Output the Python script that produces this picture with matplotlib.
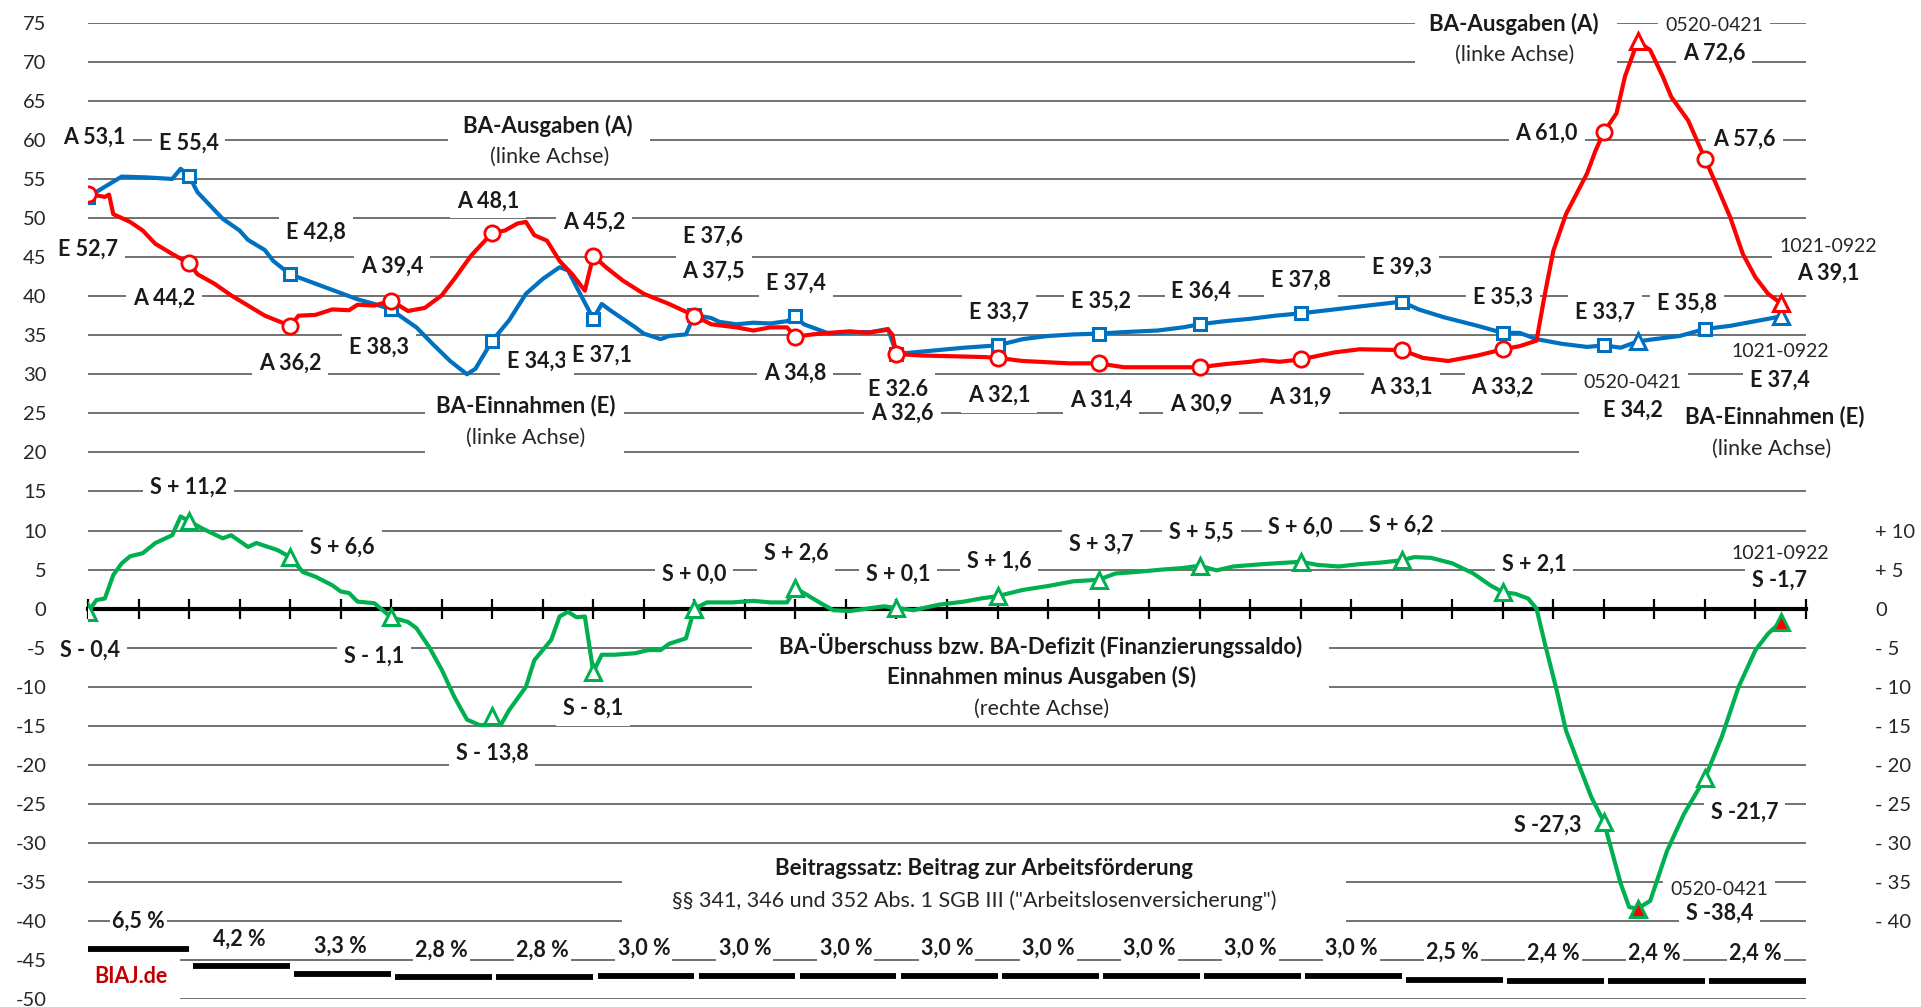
import numpy as np
import matplotlib.pyplot as plt
from matplotlib.patches import Rectangle

plt.rcParams['font.family'] = ['Lato', 'DejaVu Sans']

# x = month index, 0 = 12-month window ending 12/2005, 201 = window ending 09/2022
# BA-Einnahmen (E), rolling 12-month sums, bn EUR
e_months = [0, 2, 4, 7, 10, 11, 12, 13, 16, 18, 19, 21, 22, 24, 25, 28, 30, 32, 34, 36,
            37, 39, 41, 43, 45, 46, 48, 50, 52, 54, 56, 57, 58, 60, 61, 62, 65, 66, 68, 69,
            71, 72, 74, 75, 77, 79, 81, 83, 84, 85, 87, 88, 91, 93, 95, 96, 98, 101, 104, 108,
            111, 114, 117, 120, 123, 127, 130, 132, 135, 138, 141, 144, 148, 152, 156, 158, 161, 165, 168, 170,
            172, 175, 178, 180, 182, 184, 186, 189, 192, 195, 198, 201]
e_values = [52.7, 54.0, 55.3, 55.2, 55.0, 56.3, 55.4, 53.3, 49.9, 48.4, 47.2, 45.9, 44.5, 42.8, 42.4, 41.2, 40.4, 39.6, 39.0, 38.3,
            37.5, 36.0, 33.8, 31.7, 30.0, 30.7, 34.3, 36.9, 40.3, 42.2, 43.7, 43.3, 41.2, 37.1, 39.0, 38.2, 36.0, 35.2, 34.5, 34.9,
            35.1, 37.6, 37.2, 36.7, 36.4, 36.6, 36.5, 36.8, 37.4, 36.4, 35.6, 35.2, 35.4, 35.4, 35.8, 32.6, 32.8, 33.1, 33.4, 33.7,
            34.5, 34.9, 35.1, 35.2, 35.4, 35.6, 36.0, 36.4, 36.8, 37.1, 37.5, 37.8, 38.3, 38.8, 39.3, 38.3, 37.3, 36.2, 35.3, 35.3,
            34.5, 33.9, 33.5, 33.7, 33.4, 34.2, 34.5, 34.9, 35.8, 36.2, 36.8, 37.4]

# BA-Ausgaben (A)
a_months = [0, 2, 2.5, 3, 5, 6.5, 8, 10, 12, 13, 15, 17, 19, 21, 24, 25, 27, 29, 31, 32,
            34, 36, 38, 40, 42, 43.5, 45.5, 48, 49.5, 51, 52, 53, 54.5, 56, 57.5, 59, 60, 61.5, 63.5, 66,
            69, 72, 74, 77, 79, 81, 83, 84, 86, 88, 90.5, 92.5, 95, 95.5, 96, 99, 103, 106.5, 108, 111,
            116.5, 120, 123, 127, 130, 132, 135, 138, 139.5, 141.5, 144, 148, 151, 156, 158.5, 161.5, 165, 168, 170, 172,
            173, 174, 175.5, 178, 179, 180, 181.5, 182.5, 184, 185.5, 187, 188, 190, 192, 193.5, 195, 196.5, 198, 199.5, 201]
a_values = [53.1, 52.7, 53.0, 50.5, 49.5, 48.4, 46.7, 45.4, 44.2, 42.8, 41.6, 40.1, 38.8, 37.5, 36.2, 37.5, 37.6, 38.3, 38.2, 38.9,
            38.8, 39.4, 38.1, 38.5, 40.1, 42.2, 45.2, 48.1, 48.4, 49.3, 49.5, 47.8, 47.1, 44.5, 42.8, 40.7, 45.2, 43.7, 42.0, 40.3,
            39.0, 37.5, 36.4, 36.0, 35.6, 36.0, 36.0, 34.8, 35.1, 35.3, 35.5, 35.3, 35.7, 35.1, 32.6, 32.4, 32.3, 32.2, 32.1, 31.7,
            31.4, 31.4, 30.9, 30.9, 30.9, 30.9, 31.3, 31.6, 31.8, 31.6, 31.9, 32.8, 33.2, 33.1, 32.1, 31.7, 32.4, 33.2, 33.6, 34.3,
            40.3, 45.8, 50.5, 55.7, 58.6, 61.0, 63.4, 68.1, 72.6, 71.5, 68.1, 65.5, 62.5, 57.6, 53.9, 50.1, 45.4, 42.4, 40.3, 39.1]

# Finanzierungssaldo (S) = Einnahmen minus Ausgaben
s_months = [0, 1, 2, 3, 4, 5, 6.5, 8, 10, 11, 12, 13.5, 16, 17, 19, 20, 22.5, 24, 25.5, 27,
            29, 30, 31, 32, 34, 36, 37, 38, 39, 40.5, 42, 43.5, 45, 46.5, 47.5, 48, 49, 50, 52, 53,
            55, 56, 57, 58, 59, 60, 61, 62.5, 65, 66.5, 68, 69, 71, 72, 73.5, 76.5, 79, 81, 83, 84,
            85, 87, 88.5, 90.5, 92.5, 94.5, 96, 98, 101, 104, 106, 108, 111, 114, 117, 120, 122, 124.5, 127.5, 130,
            132, 134, 136, 139.5, 142.5, 144, 146, 148.5, 151, 153.5, 156, 157.5, 159.5, 162, 164.5, 166.5, 168, 169.5, 171, 172,
            173, 174.5, 175.5, 177, 178.5, 180, 182, 183, 184, 185.5, 187.5, 189.5, 192, 194, 196, 198, 199.5, 201]
s_values = [-0.4, 1.1, 1.3, 4.3, 5.8, 6.7, 7.1, 8.4, 9.4, 11.8, 11.2, 10.3, 9.0, 9.4, 7.9, 8.4, 7.5, 6.6, 4.7, 4.1,
            3.0, 2.2, 2.0, 0.9, 0.7, -1.1, -1.4, -1.7, -2.5, -4.9, -7.8, -11.3, -14.2, -14.9, -14.9, -13.8, -14.9, -13.0, -10.0, -6.6,
            -4.0, -1.0, -0.4, -1.1, -1.0, -8.1, -5.9, -5.9, -5.7, -5.3, -5.3, -4.5, -3.8, 0.0, 0.8, 0.8, 1.0, 0.8, 0.8, 2.6,
            2.0, 0.7, -0.2, -0.3, 0.0, 0.3, 0.1, -0.2, 0.5, 0.9, 1.3, 1.6, 2.4, 2.9, 3.5, 3.7, 4.5, 4.7, 5.0, 5.2,
            5.5, 4.9, 5.4, 5.7, 5.9, 6.0, 5.6, 5.4, 5.7, 5.9, 6.2, 6.6, 6.5, 5.8, 4.5, 3.0, 2.1, 1.9, 1.3, 0.0,
            -4.5, -10.9, -15.6, -19.9, -24.1, -27.3, -35.2, -38.2, -38.4, -37.4, -31.0, -26.3, -21.7, -16.4, -10.0, -5.3, -3.2, -1.7]

# calendar-year results 2005-2021 (markers)
year_months = [0, 12, 24, 36, 48, 60, 72, 84, 96, 108, 120, 132, 144, 156, 168, 180, 192]
e_year = [52.7, 55.4, 42.8, 38.3, 34.3, 37.1, 37.6, 37.4, 32.6, 33.7, 35.2, 36.4, 37.8, 39.3, 35.3, 33.7, 35.8]
a_year = [53.1, 44.2, 36.2, 39.4, 48.1, 45.2, 37.5, 34.8, 32.6, 32.1, 31.4, 30.9, 31.9, 33.1, 33.2, 61.0, 57.6]
s_year = [-0.4, 11.2, 6.6, -1.1, -13.8, -8.1, 0.0, 2.6, 0.1, 1.6, 3.7, 5.5, 6.0, 6.2, 2.1, -27.3, -21.7]

# 12-month windows 0520-0421 and 1021-0922
win_months = [184, 201]
e_win = [34.2, 37.4]
a_win = [72.6, 39.1]
s_win = [-38.4, -1.7]

# Beitragssatz 2006-2022 (%)
rate_years = list(range(2006, 2023))
rates = [6.5, 4.2, 3.3, 2.8, 2.8, 3.0, 3.0, 3.0, 3.0, 3.0, 3.0, 3.0, 3.0, 2.5, 2.4, 2.4, 2.4]

blue = '#0070C0'
red = '#FF0000'
green = '#00B050'
grid_c = '#595959'
txt_c = '#1a1a1a'

fig = plt.figure(figsize=(19.21, 10.07), dpi=100)
ax = fig.add_axes([88 / 1921, 7.7 / 1007, 1718 / 1921, 976.6 / 1007])
ax.set_xlim(0, 204)
ax.set_ylim(-50, 75)

for s in ['top', 'right', 'left']:
    ax.spines[s].set_visible(False)
ax.spines['bottom'].set_position(('data', 0))
ax.spines['bottom'].set_linewidth(3)
ax.spines['bottom'].set_zorder(3)
ax.set_xticks(np.arange(0, 205, 6))
ax.set_xticklabels([])
ax.tick_params(axis='x', direction='inout', length=15, width=1.6, color='black')

yt = np.arange(-50, 76, 5)
ax.set_yticks(yt)
ax.set_yticklabels([str(v) for v in yt])
ax.tick_params(axis='y', length=0, pad=30, labelsize=14.5, labelcolor='#262626')
for v in yt:
    if v != 0:
        ax.axhline(v, color=grid_c, lw=1.2, zorder=1)

ax2 = ax.twinx()
ax2.set_ylim(-50, 75)
rt = np.arange(-40, 11, 5)
ax2.set_yticks(rt)
ax2.set_yticklabels([('+ %d' % v) if v > 0 else ('- %d' % -v) if v < 0 else '0' for v in rt])
ax2.tick_params(axis='y', length=0, pad=50, labelsize=14.5, labelcolor='#262626')
for s in ax2.spines.values():
    s.set_visible(False)

# lines
ax.plot(e_months, e_values, color=blue, lw=3, zorder=4, solid_joinstyle='round')
ax.plot(a_months, a_values, color=red, lw=3, zorder=4, solid_joinstyle='round')
ax.plot(s_months, s_values, color=green, lw=3, zorder=4, solid_joinstyle='round')

ax.plot(year_months, e_year, ls='none', marker='s', ms=9, mfc='white', mec=blue, mew=2.2, zorder=5)
ax.plot(year_months, a_year, ls='none', marker='o', ms=11, mfc='white', mec=red, mew=2, zorder=6)
ax.plot(year_months, s_year, ls='none', marker='^', ms=11, mfc='white', mec=green, mew=2.2, zorder=5)
ax.plot(win_months, e_win, ls='none', marker='^', ms=11, mfc='white', mec=blue, mew=2.2, zorder=5)
ax.plot(win_months, a_win, ls='none', marker='^', ms=11, mfc='white', mec=red, mew=2.2, zorder=6)
ax.plot(win_months, s_win, ls='none', marker='^', ms=11, mfc=red, mec=green, mew=2.2, zorder=5)

# contribution rate bars
for i, r in enumerate(rates):
    x0 = 12 * i + (0 if i == 0 else 0.5)
    ax.plot([x0, 12 * i + 12], [-50 + r, -50 + r], color='black', lw=4.2,
            solid_capstyle='butt', zorder=4)
    ax.text(12 * i + 6, -50 + r + 3.5, ('%.1f' % r).replace('.', ',') + ' %',
            ha='center', va='center', fontsize=15.5, fontweight='bold', color=txt_c, zorder=2,
            bbox=dict(facecolor='white', edgecolor='none', pad=1.5))

box = dict(facecolor='white', edgecolor='none', pad=5)


def lab(txt, x, y, bold=True, size=15.5, ha='center', z=2):
    return ax.text(x, y, txt, ha=ha, va='center', fontsize=size,
                   fontweight='bold' if bold else 'normal', color=txt_c if bold else '#262626',
                   bbox=box, zorder=z, clip_on=False)


# white blocks behind multi-line captions
for (x0, x1, y0, y1) in [(42.8, 66.7, 56.6, 63.6), (40.0, 63.7, 19.3, 27.7), (157.6, 181.5, 68.8, 75.5),
                         (177.0, 206, 18.7, 27.2), (78.9, 147.4, -13.6, -3.2), (63.4, 149.4, -40.6, -31.8)]:
    ax.add_patch(Rectangle((x0, y0), x1 - x0, y1 - y0, facecolor='white', edgecolor='none',
                           zorder=1.5, clip_on=False))

labels_bold = [
    ('A 53,1', 0.8, 60.4), ('E 55,4', 11.95, 59.6), ('E 52,7', 0.0, 46.0), ('A 44,2', 9.0, 39.7),
    ('E 42,8', 27.1, 48.2), ('A 36,2', 24.0, 31.4), ('A 39,4', 36.1, 43.8), ('E 38,3', 34.6, 33.5),
    ('A 48,1', 47.5, 52.2), ('A 45,2', 60.1, 49.5),
    ('E 37,6', 74.2, 47.7), ('A 37,5', 74.3, 43.2), ('E 37,4', 84.1, 41.6), ('A 34,8', 84.0, 30.1),
    ('E 32.6', 96.2, 28.1), ('A 32,6', 96.7, 25.0), ('A 32,1', 108.2, 27.3), ('E 33,7', 108.2, 37.9),
    ('E 35,2', 120.3, 39.4), ('A 31,4', 120.3, 26.7), ('E 36,4', 132.2, 40.6), ('A 30,9', 132.2, 26.2),
    ('E 37,8', 144.0, 42.1), ('A 31,9', 144.0, 27.1), ('E 39,3', 156.0, 43.7), ('A 33,1', 156.0, 28.3),
    ('E 35,3', 168.0, 39.9), ('A 33,2', 168.0, 28.4), ('A 61,0', 173.2, 60.8), ('A 72,6', 193.1, 71.1),
    ('A 57,6', 196.7, 60.1), ('A 39,1', 206.6, 42.9), ('E 33,7', 180.1, 37.9), ('E 35,8', 189.9, 39.1),
    ('E 34,2', 183.4, 25.4), ('E 37,4', 200.9, 29.3),
    ('S + 11,2', 11.95, 15.6), ('S + 6,6', 30.2, 7.9), ('S - 0,4', 0.2, -5.3), ('S - 1,1', 34.0, -6.1),
    ('S - 13,8', 48.0, -18.5), ('S - 8,1', 60.0, -12.8), ('S + 0,0', 72.0, 4.4), ('S + 2,6', 84.1, 7.1),
    ('S + 0,1', 96.2, 4.4), ('S + 1,6', 108.2, 6.1), ('S + 3,7', 120.3, 8.25), ('S + 5,5', 132.2, 9.8),
    ('S + 6,0', 144.0, 10.4), ('S + 6,2', 156.0, 10.7), ('S + 2,1', 171.7, 5.7), ('S -1,7', 200.8, 3.6),
    ('S -21,7', 196.7, -26.0), ('S -27,3', 173.3, -27.7), ('S -38,4', 193.7, -39.0),
]
for t, x, y in labels_bold:
    lab(t, x, y)
lab('E 34,3', 53.3, 31.7, z=2)
lab('E 37,1', 61.0, 32.5, z=2.1)

# window captions sit underneath the value labels
lab('0520-0421', 193.1, 74.6, bold=False, size=14, z=1.9)
lab('0520-0421', 183.4, 29.0, bold=False, size=14, z=1.9)
lab('0520-0421', 193.7, -36.0, bold=False, size=14, z=1.9)
top_win = lab('1021-0922', 200.8, 46.4, bold=False, size=14, ha='left', z=1.9)
top_win.set_clip_path(Rectangle((0, 0), 1874 / 1921, 1, transform=fig.transFigure))
lab('1021-0922', 200.9, 32.9, bold=False, size=14, z=1.9)
lab('1021-0922', 200.9, 7.1, bold=False, size=14, z=1.9)

# captions
cap = dict(ha='center', va='center', zorder=2, clip_on=False)
ax.text(54.6, 61.8, 'BA-Ausgaben (A)', fontsize=16, fontweight='bold', color=txt_c, **cap)
ax.text(54.8, 57.8, '(linke Achse)', fontsize=15.5, color='#262626', **cap)
ax.text(52.0, 26.0, 'BA-Einnahmen (E)', fontsize=16, fontweight='bold', color=txt_c, **cap)
ax.text(52.0, 21.9, '(linke Achse)', fontsize=15.5, color='#262626', **cap)
ax.text(169.3, 74.8, 'BA-Ausgaben (A)', fontsize=16, fontweight='bold', color=txt_c, **cap)
ax.text(169.4, 70.9, '(linke Achse)', fontsize=15.5, color='#262626', **cap)
ax.text(200.3, 24.6, 'BA-Einnahmen (E)', fontsize=16, fontweight='bold', color=txt_c, **cap)
ax.text(199.9, 20.4, '(linke Achse)', fontsize=15.5, color='#262626', **cap)
ax.text(113.1, -4.7, 'BA-Überschuss bzw. BA-Defizit (Finanzierungssaldo)', fontsize=16, fontweight='bold',
        color=txt_c, **cap)
ax.text(113.2, -8.7, 'Einnahmen minus Ausgaben (S)', fontsize=16, fontweight='bold', color=txt_c, **cap)
ax.text(113.2, -12.8, '(rechte Achse)', fontsize=15.5, color='#262626', **cap)
ax.text(106.4, -33.3, 'Beitragssatz: Beitrag zur Arbeitsförderung', fontsize=16, fontweight='bold',
        color=txt_c, **cap)
ax.text(105.2, -37.4, '§§ 341, 346 und 352 Abs. 1 SGB III ("Arbeitslosenversicherung")', fontsize=15.5,
        color='#262626', **cap)
ax.text(5.1, -47.1, 'BIAJ.de', fontsize=15.5, fontweight='bold', color='#C00000', ha='center', va='center',
        zorder=2, bbox=dict(facecolor='white', edgecolor='none', pad=9))

fig.savefig('out.png', dpi=100)
